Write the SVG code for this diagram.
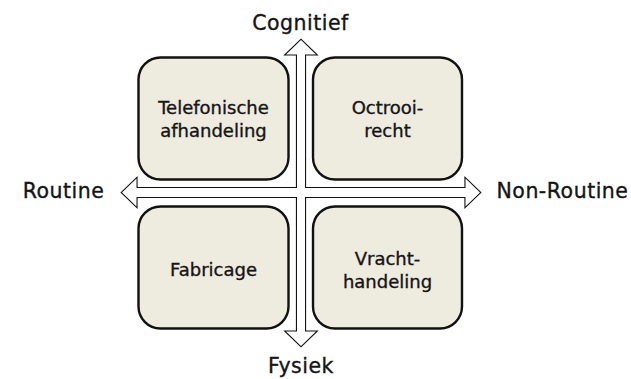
<svg xmlns="http://www.w3.org/2000/svg" xmlns:xlink="http://www.w3.org/1999/xlink" width="631" height="379" viewBox="0 0 631 379">
  <style>
    .box { fill: #EEEBDF; stroke: #111; stroke-width: 2.4; }
    .lbl { font-family: "DejaVu Sans", "Liberation Sans", sans-serif; fill: #151515; stroke: #151515; stroke-width: 0.35; text-anchor: middle; }
    .node { font-size: 18px; }
    .axis { font-size: 20.5px; letter-spacing: 0.5px; }
    .arrow-line { fill: #fff; stroke: #111; stroke-width: 2.2; stroke-linejoin: miter; }
    .arrow-fill { fill: #fff; stroke: none; }
  </style>
  <defs>
    <!-- hollow double-headed axis arrows -->
    <path id="hArrow" d="M122,192.5 L136.5,178.5 L136.5,188 L465.5,188 L465.5,178.5 L480,192.5 L465.5,206.5 L465.5,197 L136.5,197 L136.5,206.5 Z"/>
    <path id="vArrow" d="M301,40 L316,54.5 L305,54.5 L305,331.5 L316,331.5 L301,346 L286,331.5 L297,331.5 L297,54.5 L286,54.5 Z"/>
  </defs>
  <rect width="631" height="379" fill="#fff"/>

  <g id="node-telefonische">
    <rect class="box" x="138.5" y="57.5" width="150" height="122" rx="22"/>
    <text class="lbl node" x="213.5" y="114">Telefonische</text>
    <text class="lbl node" x="213.5" y="136.5">afhandeling</text>
  </g>
  <g id="node-octrooirecht">
    <rect class="box" x="313" y="57.5" width="149" height="122" rx="22"/>
    <text class="lbl node" x="387.5" y="114">Octrooi-</text>
    <text class="lbl node" x="387.5" y="136.5">recht</text>
  </g>
  <g id="node-fabricage">
    <rect class="box" x="138.5" y="206.5" width="150" height="122" rx="22"/>
    <text class="lbl node" x="213.5" y="276">Fabricage</text>
  </g>
  <g id="node-vrachthandeling">
    <rect class="box" x="313" y="206.5" width="149" height="122" rx="22"/>
    <text class="lbl node" x="387.5" y="265">Vracht-</text>
    <text class="lbl node" x="387.5" y="288">handeling</text>
  </g>

  <g id="connectors">
    <use xlink:href="#hArrow" class="arrow-line"/>
    <use xlink:href="#vArrow" class="arrow-line"/>
    <!-- interiors painted over to merge the crossing into one outline -->
    <use xlink:href="#hArrow" class="arrow-fill"/>
    <use xlink:href="#vArrow" class="arrow-fill"/>
  </g>

  <g id="axis-labels">
    <text class="lbl axis" x="300.5" y="30">Cognitief</text>
    <text class="lbl axis" x="301" y="373">Fysiek</text>
    <text class="lbl axis" x="63.5" y="197.5">Routine</text>
    <text class="lbl axis" x="496.5" y="197.5" style="text-anchor:start">Non-Routine</text>
  </g>
</svg>
